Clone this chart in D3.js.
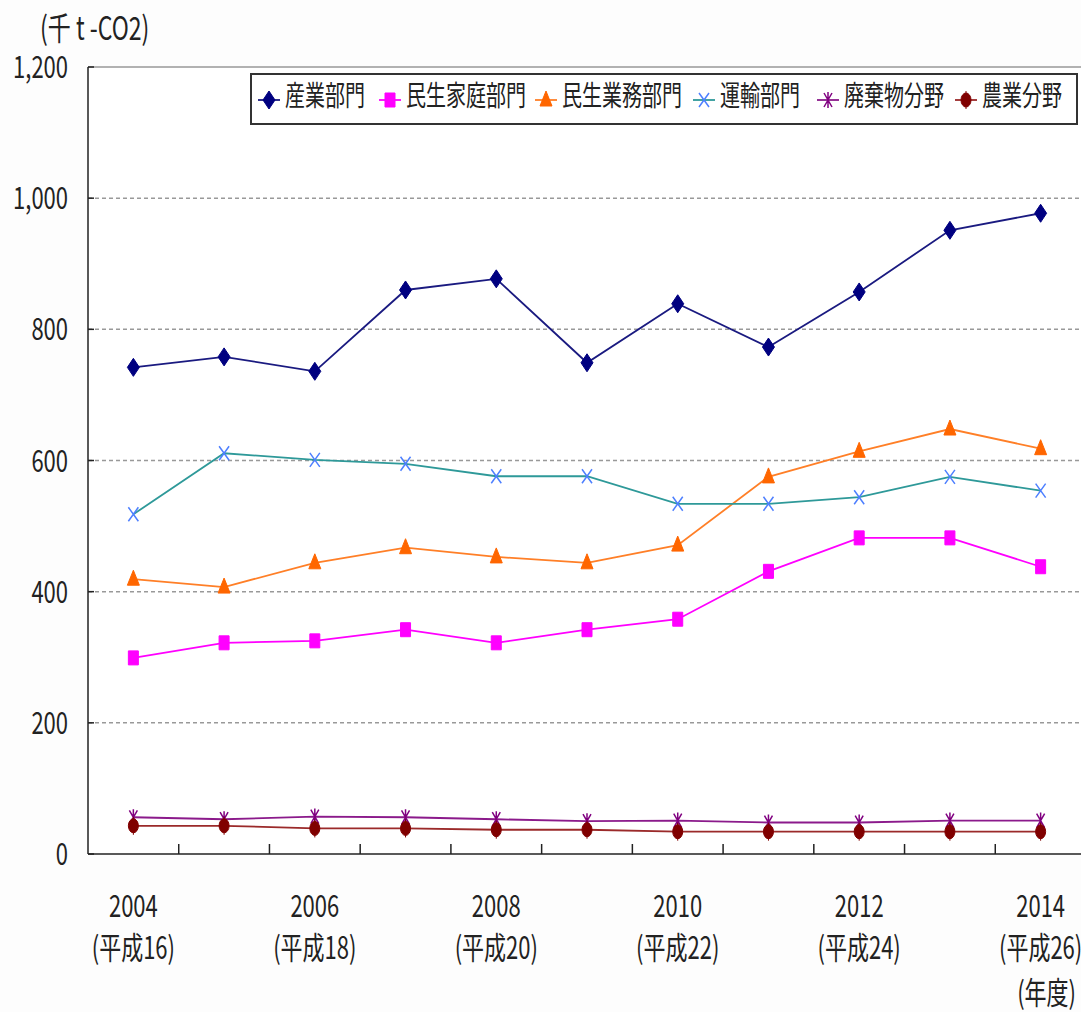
<!DOCTYPE html>
<html>
<head>
<meta charset="utf-8">
<script src="https://cdn.jsdelivr.net/npm/d3@7"></script>
<style>
  body { margin: 0; background: #fdfdfd; }
  svg { display: block; }
  text { font-family: "Noto Sans CJK JP", "Noto Sans", sans-serif; fill: #222; }
</style>
</head>
<body>
<div id="app"></div>
<script>
// 年度
const years = [2004, 2005, 2006, 2007, 2008, 2009, 2010, 2011, 2012, 2013, 2014]
const yearLabels = {2004: '(平成16)', 2006: '(平成18)', 2008: '(平成20)', 2010: '(平成22)', 2012: '(平成24)', 2014: '(平成26)'}
const yTicks = [0, 200, 400, 600, 800, 1000, 1200]

// 千t-CO2
const sangyo   = [742, 758, 736, 860, 877, 749, 839, 773, 857, 951, 977]
const katei    = [299, 322, 325, 342, 322, 342, 358, 431, 482, 482, 438]
const gyomu    = [419, 407, 444, 467, 453, 444, 471, 575, 614, 648, 618]
const unyu     = [518, 611, 601, 595, 576, 576, 534, 534, 544, 575, 554]
const haikibutsu = [56, 53, 57, 56, 53, 50, 51, 48, 48, 51, 51]
const nogyo    = [43, 43, 39, 39, 37, 37, 34, 34, 34, 34, 34]

const seriesNames = ['産業部門', '民生家庭部門', '民生業務部門', '運輸部門', '廃棄物分野', '農業分野']

const series = [
  {name: seriesNames[0], values: sangyo, line: '#1a1a80', mark: '#000080', shape: 'diamond'},
  {name: seriesNames[1], values: katei, line: '#ff00ff', mark: '#ff00ff', shape: 'square'},
  {name: seriesNames[2], values: gyomu, line: '#ff7f27', mark: '#ff6600', shape: 'triangle'},
  {name: seriesNames[3], values: unyu, line: '#2e9999', mark: '#4d7fff', shape: 'cross'},
  {name: seriesNames[4], values: haikibutsu, line: '#8b1a8b', mark: '#800080', shape: 'star'},
  {name: seriesNames[5], values: nogyo, line: '#9b2a2a', mark: '#800000', shape: 'circle'}
]

const W = 1081, H = 1012
const plot = {left: 88, right: 1086, top: 67, bottom: 854}
const SY = 1.4 // vertical stretch of the original picture

const svg = d3.select('#app').append('svg').attr('width', W).attr('height', H)

const x = d3.scaleBand().domain(years).range([plot.left, plot.right])
const y = d3.scaleLinear().domain([0, 1200]).range([plot.bottom, plot.top])
const cx = d => x(d) + x.bandwidth() / 2

function addText(g, str, tx, ty, size, anchor) {
  return g.append('text')
    .attr('transform', `translate(${tx},${ty}) scale(1,${SY})`)
    .attr('font-size', size)
    .attr('text-anchor', anchor || 'start')
    .text(str)
}

function markerPath(shape) {
  switch (shape) {
    case 'diamond': return 'M0,-9L6,0L0,9L-6,0Z'
    case 'square': return 'M-5,-7H5V7H-5Z'
    case 'triangle': return 'M0,-9L6,6L-6,6Z'
    case 'cross': return 'M-5,-7L5,7M-5,7L5,-7'
    case 'star': return 'M-4,-7L4,7M-4,7L4,-7M0,-8V8'
    case 'circle': return 'M-5,0A5,7 0 1,0 5,0A5,7 0 1,0 -5,0ZM0,-9V9'
  }
}
const filled = s => s !== 'cross' && s !== 'star'

function drawMarker(g, s, px, py) {
  g.append('path')
    .attr('transform', `translate(${px},${py})`)
    .attr('d', markerPath(s.shape))
    .attr('fill', filled(s.shape) ? s.mark : 'none')
    .attr('stroke', s.mark)
    .attr('stroke-width', filled(s.shape) ? 1 : 1.5)
}

// plot background + gridlines
svg.append('rect').attr('x', plot.left).attr('y', plot.top)
  .attr('width', plot.right - plot.left).attr('height', plot.bottom - plot.top)
  .attr('fill', '#fff')

svg.append('g').selectAll('line')
  .data(yTicks.filter(d => d > 0 && d < 1200))
  .enter().append('line')
  .attr('x1', plot.left).attr('x2', plot.right)
  .attr('y1', d => y(d)).attr('y2', d => y(d))
  .attr('stroke', '#999').attr('stroke-width', 1.5).attr('stroke-dasharray', '4,3')

// top border
svg.append('line').attr('x1', plot.left).attr('x2', plot.right)
  .attr('y1', plot.top).attr('y2', plot.top)
  .attr('stroke', '#999').attr('stroke-width', 1.5)

// axes
const axisG = svg.append('g').attr('stroke', '#222').attr('stroke-width', 1.5)
axisG.append('line').attr('x1', plot.left).attr('x2', plot.left).attr('y1', plot.top).attr('y2', plot.bottom)
axisG.append('line').attr('x1', plot.left).attr('x2', plot.right).attr('y1', plot.bottom).attr('y2', plot.bottom)
axisG.selectAll('.yt').data(yTicks).enter().append('line')
  .attr('x1', plot.left).attr('x2', plot.left + 6)
  .attr('y1', d => y(d)).attr('y2', d => y(d))
axisG.selectAll('.xt').data(years.slice(1)).enter().append('line')
  .attr('x1', d => x(d)).attr('x2', d => x(d))
  .attr('y1', plot.bottom).attr('y2', plot.bottom - 10)

// y tick labels
const fmt = d3.format(',')
const yLab = svg.append('g')
yTicks.forEach(t => addText(yLab, fmt(t), 68, y(t) + 11, 22, 'end'))
addText(svg, '(千 t -CO2)', 40, 40, 23)

// x tick labels
const xLab = svg.append('g')
years.filter(d => yearLabels[d]).forEach(d => {
  addText(xLab, String(d), cx(d), 917, 22, 'middle')
  addText(xLab, yearLabels[d], cx(d), 959, 22, 'middle')
})
addText(svg, '(年度)', 1076, 1004, 22, 'end')

// series lines
const line = d3.line().x((d, i) => cx(years[i])).y(d => y(d))
series.forEach(s => {
  svg.append('path').datum(s.values)
    .attr('d', line).attr('fill', 'none')
    .attr('stroke', s.line).attr('stroke-width', 1.8)
})
series.forEach(s => {
  const g = svg.append('g')
  s.values.forEach((v, i) => drawMarker(g, s, cx(years[i]), y(v)))
})

// legend
const lg = svg.append('g')
lg.append('rect').attr('x', 251).attr('y', 74).attr('width', 826).attr('height', 50)
  .attr('fill', '#fff').attr('stroke', '#333').attr('stroke-width', 2)
const legendX = [258, 379, 535, 693, 817, 955]
series.forEach((s, i) => {
  const lx = legendX[i]
  lg.append('line').attr('x1', lx).attr('x2', lx + 22).attr('y1', 100).attr('y2', 100)
    .attr('stroke', s.line).attr('stroke-width', 1.8)
  drawMarker(lg, s, lx + 11, 100)
  addText(lg, s.name, lx + 27, 106, 20)
})
</script>
</body>
</html>
